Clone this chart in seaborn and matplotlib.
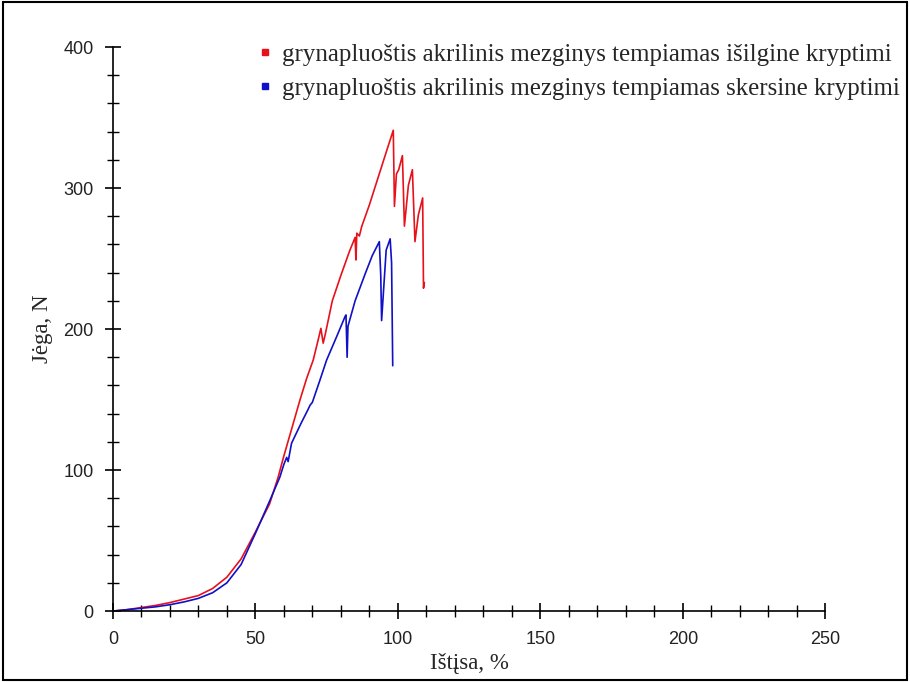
import numpy as np
import pandas as pd
import matplotlib
matplotlib.use('Agg')
import matplotlib.pyplot as plt
import seaborn as sns
from matplotlib.ticker import MultipleLocator
from matplotlib.patches import Rectangle

# Data (elongation %, force N)
x_long = [0, 5, 10, 15, 20, 25, 30, 35, 40, 45, 50, 55, 58, 60, 63, 65.7, 68,
          70.3, 72, 73.0, 73.8, 74.5, 77, 80, 83, 85, 85.3, 85.6, 86.5, 87.3,
          90, 93, 96, 98.4, 98.8, 99.5, 100.3, 101.6, 102.3, 103.7, 105.1, 106,
          107.2, 108.7, 109, 109.3]
y_long = [0, 1, 2.5, 4, 6, 8.5, 11, 16, 24, 37, 56, 76, 95, 110, 131, 150, 165,
          178, 192, 200.5, 190, 196, 220, 238, 255, 265, 249, 268, 266, 272.6,
          288, 307, 326, 341, 287, 310, 313, 323, 273, 302, 313, 262, 281, 293,
          229, 233]

x_trans = [0, 5, 10, 15, 20, 25, 30, 35, 40, 45, 50, 55, 58.6, 60, 61, 61.5,
           62.7, 66, 68.5, 69.2, 70, 72.7, 75, 78.5, 81.5, 81.8, 82.2, 82.5, 85,
           88.5, 91, 93.5, 94.0, 94.3, 95.9, 97.3, 97.8, 98.2]
y_trans = [0, 1, 2, 3, 4.5, 6.5, 9, 13, 20, 33, 55, 78, 95, 104, 109, 106, 119,
           133, 143, 146, 148, 164, 178, 194.5, 209, 210, 180, 202, 220, 239, 252,
           262, 238, 206, 256, 264, 247, 174]

label_long = 'grynapluoštis akrilinis mezginys tempiamas išilgine kryptimi'
label_trans = 'grynapluoštis akrilinis mezginys tempiamas skersine kryptimi'

df = pd.concat([
    pd.DataFrame({'x': x_long, 'y': y_long, 'serija': label_long}),
    pd.DataFrame({'x': x_trans, 'y': y_trans, 'serija': label_trans}),
], ignore_index=True)

sns.set_style('white')
serif = ['Liberation Serif', 'DejaVu Serif']
sans = ['Liberation Sans', 'DejaVu Sans']

fig = plt.figure(figsize=(9.1, 6.82), dpi=100)
ax = fig.add_axes([0.124, 0.104, 0.783, 0.827])

sns.lineplot(data=df, x='x', y='y', hue='serija', estimator=None, sort=False,
             palette={label_long: '#e8111b', label_trans: '#1010c8'},
             linewidth=1.2, legend=False, ax=ax)

ax.set_xlim(0, 250)
ax.set_ylim(0, 400)
ax.xaxis.set_major_locator(MultipleLocator(50))
ax.xaxis.set_minor_locator(MultipleLocator(10))
ax.yaxis.set_major_locator(MultipleLocator(100))
ax.yaxis.set_minor_locator(MultipleLocator(20))
ax.tick_params(which='major', direction='inout', length=12, width=1.2, color='black',
               labelsize=13, pad=8, left=True, bottom=True)
ax.tick_params(which='minor', direction='inout', length=8, width=1.0, color='black',
               left=True, bottom=True)
for lbl in ax.get_xticklabels() + ax.get_yticklabels():
    lbl.set_family(sans)
    lbl.set_color('#222222')

for s in ['top', 'right']:
    ax.spines[s].set_visible(False)
for s in ['left', 'bottom']:
    ax.spines[s].set_color('black')
    ax.spines[s].set_linewidth(1.2)

ax.set_xlabel('Ištįsa, %', family=serif, fontsize=16.5, labelpad=4)
ax.set_ylabel('Jėga, N', family=serif, fontsize=16.5, labelpad=7)
ax.grid(False)

# legend with small square markers
handles = [plt.Line2D([], [], linestyle='none', marker='s', markersize=5, color='#e8111b'),
           plt.Line2D([], [], linestyle='none', marker='s', markersize=5, color='#1010c8')]
ax.legend(handles, [label_long, label_trans], loc='upper left',
          bbox_to_anchor=(0.186, 1.028), frameon=False, borderpad=0,
          handlelength=0.6, handletextpad=0.38, labelspacing=0.45,
          prop={'family': serif, 'size': 17.9})

# frame round the whole picture
fig.patches.append(Rectangle((0.003, 0.003), 0.994, 0.994, transform=fig.transFigure,
                             fill=False, edgecolor='black', linewidth=1.5))

fig.savefig('out.png', dpi=100)
